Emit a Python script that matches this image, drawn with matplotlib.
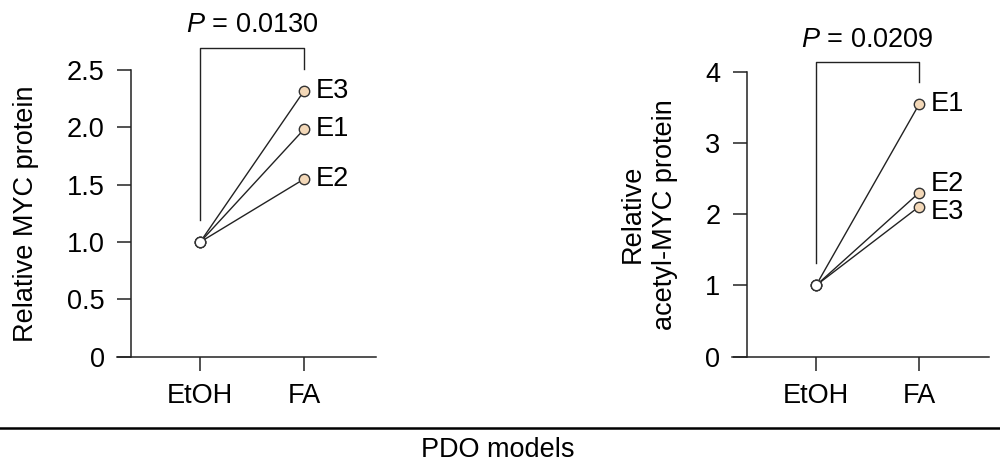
import matplotlib
matplotlib.use("Agg")
import matplotlib.pyplot as plt
from matplotlib.lines import Line2D

plt.rcParams['font.family'] = ['Liberation Sans', 'DejaVu Sans']
plt.rcParams['mathtext.fontset'] = 'custom'
plt.rcParams['mathtext.rm'] = 'Liberation Sans'
plt.rcParams['mathtext.it'] = 'Liberation Sans:italic'

# ---- data ----
conditions = ["EtOH", "FA"]
models = ["E1", "E2", "E3"]
myc_etoh = [1.0, 1.0, 1.0]
myc_fa = [1.985, 1.55, 2.32]
acmyc_etoh = [1.0, 1.0, 1.0]
acmyc_fa = [3.54, 2.30, 2.105]
myc_yticks = [0, 0.5, 1.0, 1.5, 2.0, 2.5]
myc_yticklabels = ["0", "0.5", "1.0", "1.5", "2.0", "2.5"]
acmyc_yticks = [0, 1, 2, 3, 4]
acmyc_yticklabels = ["0", "1", "2", "3", "4"]
p_myc = "0.0130"
p_acmyc = "0.0209"

FS = 19.5
W, H = 1000, 465
fig = plt.figure(figsize=(W / 100, H / 100), dpi=100)

peach = "#F3D8B8"
edge = "#333333"


def panel(rect, xlim, spine_x, ylim, yticks, yticklabels, etoh, fa, ylabel,
          ptext, br_top, br_left, br_right, label_offsets, ptext_off):
    ax = fig.add_axes(rect)
    ax.set_xlim(*xlim)
    ax.set_ylim(*ylim)
    for s in ("top", "right"):
        ax.spines[s].set_visible(False)
    ax.spines["left"].set_position(("data", spine_x))
    ax.spines["left"].set_bounds(ylim[0], ylim[1])
    for s in ("left", "bottom"):
        ax.spines[s].set_linewidth(1.1)
        ax.spines[s].set_color("#222222")
    ax.set_xticks([0, 1])
    ax.set_xticklabels(conditions, fontsize=FS)
    ax.set_yticks(yticks)
    ax.set_yticklabels(yticklabels, fontsize=FS)
    ax.tick_params(axis="both", length=10, width=1.1, color="#222222")
    ax.tick_params(axis="x", pad=9)
    ax.tick_params(axis="y", pad=9)
    ax.set_ylabel(ylabel, fontsize=FS, linespacing=1.3)
    for e, f in zip(etoh, fa):
        ax.plot([0, 1], [e, f], color="#222222", lw=1.0, zorder=2, clip_on=False)
    ax.plot([0] * len(etoh), etoh, "o", ms=7.5, mfc="white", mec=edge, mew=1.0,
            zorder=3, clip_on=False)
    ax.plot([1] * len(fa), fa, "o", ms=7.5, mfc=peach, mec=edge, mew=1.0,
            zorder=3, clip_on=False)
    for name, f, off in zip(models, fa, label_offsets):
        ax.annotate(name, (1, f), xytext=(8.5, off), textcoords="offset points",
                    fontsize=FS, va="center", ha="left", annotation_clip=False)
    ax.plot([0, 0, 1, 1], [br_left, br_top, br_top, br_right], color="#222222",
            lw=1.0, clip_on=False)
    ax.annotate(r"$\it{P}$ = " + ptext, (0.5, br_top), xytext=(0, ptext_off),
                textcoords="offset points", ha="center", va="bottom",
                fontsize=FS, annotation_clip=False)
    return ax


# left panel
ax1 = panel([117 / W, (H - 356.7) / H, 259 / W, 286.7 / H],
            (-0.8, 1.69), -0.663, (0, 2.5), myc_yticks, myc_yticklabels,
            myc_etoh, myc_fa, "Relative MYC protein", p_myc,
            2.69, 1.19, 2.51, [0, 0, 0], 7)
ax1.yaxis.set_label_coords(-0.30, 0.5)

# right panel
ax2 = panel([732 / W, (H - 356.7) / H, 257 / W, 285 / H],
            (-0.816, 1.68), -0.673, (0, 4), acmyc_yticks, acmyc_yticklabels,
            acmyc_etoh, acmyc_fa, "Relative\nacetyl-MYC protein", p_acmyc,
            4.14, 1.31, 3.86, [0, 6.5, -3.6], 6)
ax2.yaxis.set_label_coords(-0.21, 0.5)

fig.add_artist(Line2D([0, 1], [(H - 428) / H] * 2, transform=fig.transFigure,
                      color="black", lw=1.8))
fig.text(0.498, (H - 450) / H, "PDO models", ha="center", va="center", fontsize=FS)

fig.savefig("out.png", dpi=100, facecolor="white")
